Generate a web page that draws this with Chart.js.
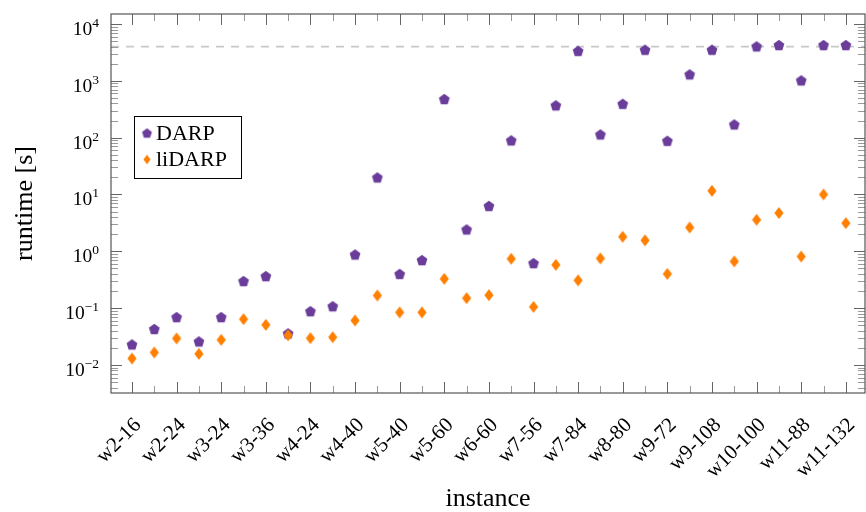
<!DOCTYPE html>
<html><head><meta charset="utf-8">
<script src="https://cdn.jsdelivr.net/npm/chart.js@4/dist/chart.umd.min.js"></script>
<style>html,body{margin:0;padding:0;background:#fff}#wrap{width:866px;height:512px}</style>
</head><body><div id="wrap"><canvas id="c" width="866" height="512"></canvas></div>
<script>
// ---- data ----
const categories = ['w2-16','w2-20','w2-24','w3-18','w3-24','w3-30','w3-36','w4-16','w4-24','w4-32','w4-40',
  'w5-30','w5-40','w5-50','w5-60','w6-48','w6-60','w6-72','w7-56','w7-70','w7-84','w8-64','w8-80','w8-96',
  'w9-72','w9-90','w9-108','w10-80','w10-100','w10-120','w11-88','w11-110','w11-132'];
const darpRuntime = [0.023,0.043,0.0695,0.026,0.0695,0.30,0.366,0.036,0.0885,0.108,0.88,
  20,0.40,0.70,478,2.43,6.3,89.6,0.62,370,3370,114,395,3530,
  88,1300,3530,171,4045,4270,1020,4270,4270];
const lidarpRuntime = [0.013,0.0166,0.0293,0.0157,0.0277,0.064,0.0508,0.0333,0.0296,0.0308,0.0607,
  0.167,0.084,0.084,0.328,0.150,0.169,0.738,0.105,0.578,0.308,0.75,1.80,1.56,
  0.40,2.63,11.6,0.664,3.59,4.71,0.81,10.0,3.13];
const yTickValues = [1e-2,1e-1,1e0,1e1,1e2,1e3,1e4];
const timeLimit = 4000;
const seriesNames = ['DARP','liDARP'];

// ---- styles ----
const PURPLE = '#6a3d9a', ORANGE = '#ff7f00';
const SERIF = '"Liberation Serif", "Times New Roman", serif';

function pentagon(R, color){
  const s = Math.ceil(2*R+2), c = document.createElement('canvas');
  c.width = s; c.height = s;
  const g = c.getContext('2d'); g.fillStyle = color; g.beginPath();
  const cx = s/2, cy = s/2 + R*0.1;
  for (let k=0;k<5;k++){ const a = -Math.PI/2 + k*2*Math.PI/5; const x = cx+R*Math.cos(a), y = cy+R*Math.sin(a); k?g.lineTo(x,y):g.moveTo(x,y); }
  g.closePath(); g.fill(); return c;
}
function diamond(hw, hh, color){
  const w = Math.ceil(2*hw+2), h = Math.ceil(2*hh+2), c = document.createElement('canvas');
  c.width = w; c.height = h;
  const g = c.getContext('2d'); g.fillStyle = color; g.beginPath();
  g.moveTo(w/2, h/2-hh); g.lineTo(w/2+hw, h/2); g.lineTo(w/2, h/2+hh); g.lineTo(w/2-hw, h/2); g.closePath(); g.fill(); return c;
}
const markers = [pentagon(5.7, PURPLE), diamond(4.6, 5.9, ORANGE)];
const legendMarkers = [pentagon(5.2, PURPLE), diamond(3.6, 4.8, ORANGE)];

const frame = {
  id: 'frame',
  beforeDatasetsDraw(chart){
    const {ctx, chartArea:a, scales:{x, y}} = chart;
    ctx.save();
    // time limit line
    const ty = y.getPixelForValue(timeLimit);
    ctx.strokeStyle = '#c8c8c8'; ctx.lineWidth = 1.6; ctx.setLineDash([8,7]);
    ctx.beginPath(); ctx.moveTo(a.left, ty); ctx.lineTo(a.right, ty); ctx.stroke();
    ctx.setLineDash([]);
    // x ticks (bottom + top)
    ctx.lineWidth = 1;
    x.ticks.forEach(t => {
      const px = Math.round(x.getPixelForValue(t.value)) + 0.5;
      const major = t.value % 2 === 0, len = major ? 11 : 7;
      ctx.strokeStyle = major ? '#666' : '#999';
      ctx.beginPath(); ctx.moveTo(px, a.bottom); ctx.lineTo(px, a.bottom-len);
      ctx.moveTo(px, a.top); ctx.lineTo(px, a.top+len); ctx.stroke();
    });
    // y ticks major + minor (left + right)
    for (let d=-3; d<=4; d++){
      for (let k=1; k<=9; k++){
        const v = k*Math.pow(10,d);
        if (v < y.min || v > y.max) continue;
        const py = Math.round(y.getPixelForValue(v)) + 0.5;
        const major = k===1, len = major ? 11 : 7;
        ctx.strokeStyle = major ? '#666' : '#999';
        ctx.beginPath(); ctx.moveTo(a.left, py); ctx.lineTo(a.left+len, py);
        ctx.moveTo(a.right, py); ctx.lineTo(a.right-len, py); ctx.stroke();
      }
    }
    ctx.restore();
  },
  afterDraw(chart){
    const {ctx, chartArea:a, scales:{y}} = chart;
    ctx.save();
    ctx.strokeStyle = '#555'; ctx.lineWidth = 1.2;
    ctx.strokeRect(a.left, a.top, a.right-a.left, a.bottom-a.top);
    // y tick labels 10^e
    ctx.fillStyle = '#000'; ctx.textBaseline = 'alphabetic'; ctx.textAlign = 'left';
    y.ticks.forEach(t => {
      const e = Math.round(Math.log10(t.value));
      const ex = e < 0 ? '\u2212' + (-e) : String(e);
      const py = y.getPixelForValue(t.value);
      ctx.font = '13.5px ' + SERIF; const w2 = ctx.measureText(ex).width;
      ctx.font = '19.5px ' + SERIF; const w1 = ctx.measureText('10').width;
      const right = a.left - 12;
      ctx.fillText('10', right - w2 - w1, py + 11);
      ctx.font = '13.5px ' + SERIF;
      ctx.fillText(ex, right - w2, py + 3);
    });
    // legend
    const L = chart.options.plugins.frame;
    ctx.fillStyle = '#fff'; ctx.fillRect(L.x, L.y, L.w, L.h);
    ctx.strokeStyle = '#000'; ctx.lineWidth = 1;
    ctx.strokeRect(L.x+0.5, L.y+0.5, L.w, L.h);
    ctx.font = '22px ' + SERIF; ctx.fillStyle = '#000'; ctx.textBaseline = 'middle';
    chart.data.datasets.forEach((ds, i) => {
      const cy = L.y + L.first + i*L.step;
      const m = legendMarkers[i];
      ctx.drawImage(m, L.x + L.mx - m.width/2, cy - m.height/2);
      ctx.fillText(ds.label, L.x + L.tx, cy + 1);
    });
    ctx.restore();
  }
};

new Chart(document.getElementById('c'), {
  type: 'scatter',
  data: {
    datasets: [
      { label: seriesNames[0], data: darpRuntime.map((v,i)=>({x:i, y:v})), pointStyle: markers[0], order: 2,
        backgroundColor: PURPLE, borderColor: PURPLE },
      { label: seriesNames[1], data: lidarpRuntime.map((v,i)=>({x:i, y:v})), pointStyle: markers[1], order: 1,
        backgroundColor: ORANGE, borderColor: ORANGE }
    ]
  },
  options: {
    responsive: false, animation: false, devicePixelRatio: 1,
    layout: { autoPadding: false, padding: { top: 14, right: 1, left: 0, bottom: 0 } },
    plugins: {
      legend: { display: false }, tooltip: { enabled: false },
      frame: { x: 134, y: 116, w: 107, h: 62, mx: 13, tx: 22, first: 17, step: 26.5 }
    },
    scales: {
      x: {
        type: 'linear', min: -0.94, max: 32.86,
        afterBuildTicks: s => { s.ticks = categories.map((c,i)=>({value:i})); },
        afterFit: s => { s.height = 119; s.paddingLeft = 0; s.paddingRight = 0; },
        grid: { display: false }, border: { display: false },
        ticks: { autoSkip: false, maxRotation: 45, minRotation: 45, padding: 12, labelOffset: 6, color: '#000',
          font: { family: SERIF, size: 21 },
          callback: v => (v % 2 === 0 ? categories[v] : '') },
        title: { display: true, text: 'instance', color: '#000', font: { family: SERIF, size: 26, lineHeight: 1 }, padding: { top: 0, bottom: 0 } }
      },
      y: {
        type: 'logarithmic', min: 0.00321, max: 15000,
        afterBuildTicks: s => { s.ticks = yTickValues.map(v=>({value:v})); },
        afterFit: s => { s.width = 111; s.paddingTop = 0; s.paddingBottom = 0; },
        grid: { display: false }, border: { display: false },
        ticks: { display: false },
        title: { display: true, text: 'runtime [s]', color: '#000', font: { family: SERIF, size: 26, lineHeight: 1 }, padding: { top: 12, bottom: 0 } }
      }
    }
  },
  plugins: [frame]
});
</script>
</body></html>
